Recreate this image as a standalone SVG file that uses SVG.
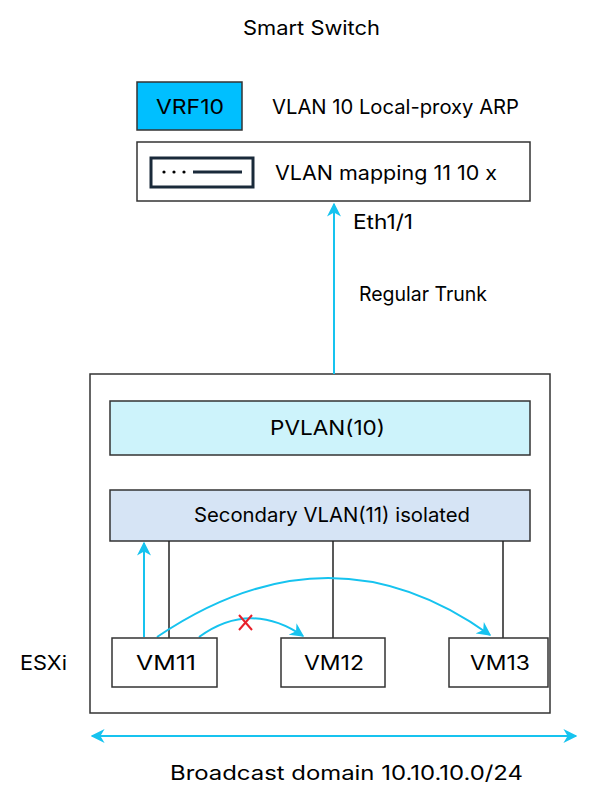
<svg xmlns="http://www.w3.org/2000/svg" width="600" height="799" viewBox="0 0 600 799">
<defs>
<style>
text{font-family:Inter,"Liberation Sans",sans-serif;fill:#000;font-size:20px}
.box{fill:#fff;stroke:#333;stroke-width:1.5}
.c{fill:none;stroke:#16c3ef;stroke-width:2}
.k{stroke:#222;stroke-width:1.5}
</style>
<marker id="a" viewBox="0 0 10 10" refX="9" refY="5" markerWidth="7" markerHeight="7" orient="auto-start-reverse"><path d="M0,0 L10,5 L0,10 L3,5 Z" fill="#16c3ef"/></marker>
</defs>
<rect width="600" height="799" fill="#fff"/>
<text x="243" y="35" textLength="137" lengthAdjust="spacingAndGlyphs">Smart Switch</text>
<g id="vrf"><rect x="137" y="82" width="105" height="48" fill="#00bfff" stroke="#333" stroke-width="1.5"/><text x="156" y="114" font-size="22" textLength="68" lengthAdjust="spacingAndGlyphs">VRF10</text></g>
<text x="272" y="114" textLength="247" lengthAdjust="spacingAndGlyphs">VLAN 10 Local-proxy ARP</text>
<g id="switch"><rect class="box" x="137" y="142" width="393" height="59"/>
<rect x="151" y="158" width="102" height="29" fill="none" stroke="#1a2a3a" stroke-width="3"/>
<circle cx="164" cy="172" r="1.6"/><circle cx="174" cy="172" r="1.6"/><circle cx="184" cy="172" r="1.6"/>
<line x1="193" y1="172" x2="242" y2="172" stroke="#1a2a3a" stroke-width="3"/>
<text x="275" y="180" textLength="222" lengthAdjust="spacingAndGlyphs">VLAN mapping 11 10 x</text></g>
<text x="353" y="229" textLength="60" lengthAdjust="spacingAndGlyphs">Eth1/1</text>
<text x="359" y="301" textLength="128" lengthAdjust="spacingAndGlyphs">Regular Trunk</text>
<g id="esxi"><rect class="box" x="90" y="374" width="460" height="339"/></g>
<text x="20" y="670" textLength="47" lengthAdjust="spacingAndGlyphs">ESXi</text>
<g id="pvlan"><rect x="110" y="401" width="420" height="54" fill="#cdf3fb" stroke="#333" stroke-width="1.5"/><text x="270" y="435" textLength="115" lengthAdjust="spacingAndGlyphs">PVLAN(10)</text></g>
<g id="secondary"><rect x="110" y="490" width="420" height="51" fill="#d6e4f5" stroke="#333" stroke-width="1.5"/><text x="194" y="522" textLength="276" lengthAdjust="spacingAndGlyphs">Secondary VLAN(11) isolated</text></g>
<g id="connectors">
<line class="k" x1="169" y1="541" x2="169" y2="638"/>
<line class="k" x1="333" y1="541" x2="333" y2="638"/>
<line class="k" x1="503" y1="541" x2="503" y2="638"/>
<line class="c" x1="334" y1="374" x2="334" y2="204" marker-end="url(#a)"/>
<line class="c" x1="144" y1="637" x2="144" y2="543" marker-end="url(#a)"/>
<path class="c" d="M157,637 Q330,520 490,635" marker-end="url(#a)"/>
<path class="c" d="M199,637 Q250,600 303,636" marker-end="url(#a)"/>
<line class="c" x1="92" y1="736" x2="576" y2="736" marker-start="url(#a)" marker-end="url(#a)"/>
<path d="M239,615 L252,630 M252,615 L239,630" stroke="#e8202a" stroke-width="2"/>
</g>
<g id="vm11"><rect class="box" x="112" y="638" width="105" height="49"/><text x="136" y="670" textLength="60" lengthAdjust="spacingAndGlyphs">VM11</text></g>
<g id="vm12"><rect class="box" x="281" y="638" width="104" height="49"/><text x="304" y="670" textLength="60" lengthAdjust="spacingAndGlyphs">VM12</text></g>
<g id="vm13"><rect class="box" x="449" y="638" width="99" height="49"/><text x="470" y="670" textLength="60" lengthAdjust="spacingAndGlyphs">VM13</text></g>
<text x="170" y="780" textLength="353" lengthAdjust="spacingAndGlyphs">Broadcast domain 10.10.10.0/24</text>
</svg>
